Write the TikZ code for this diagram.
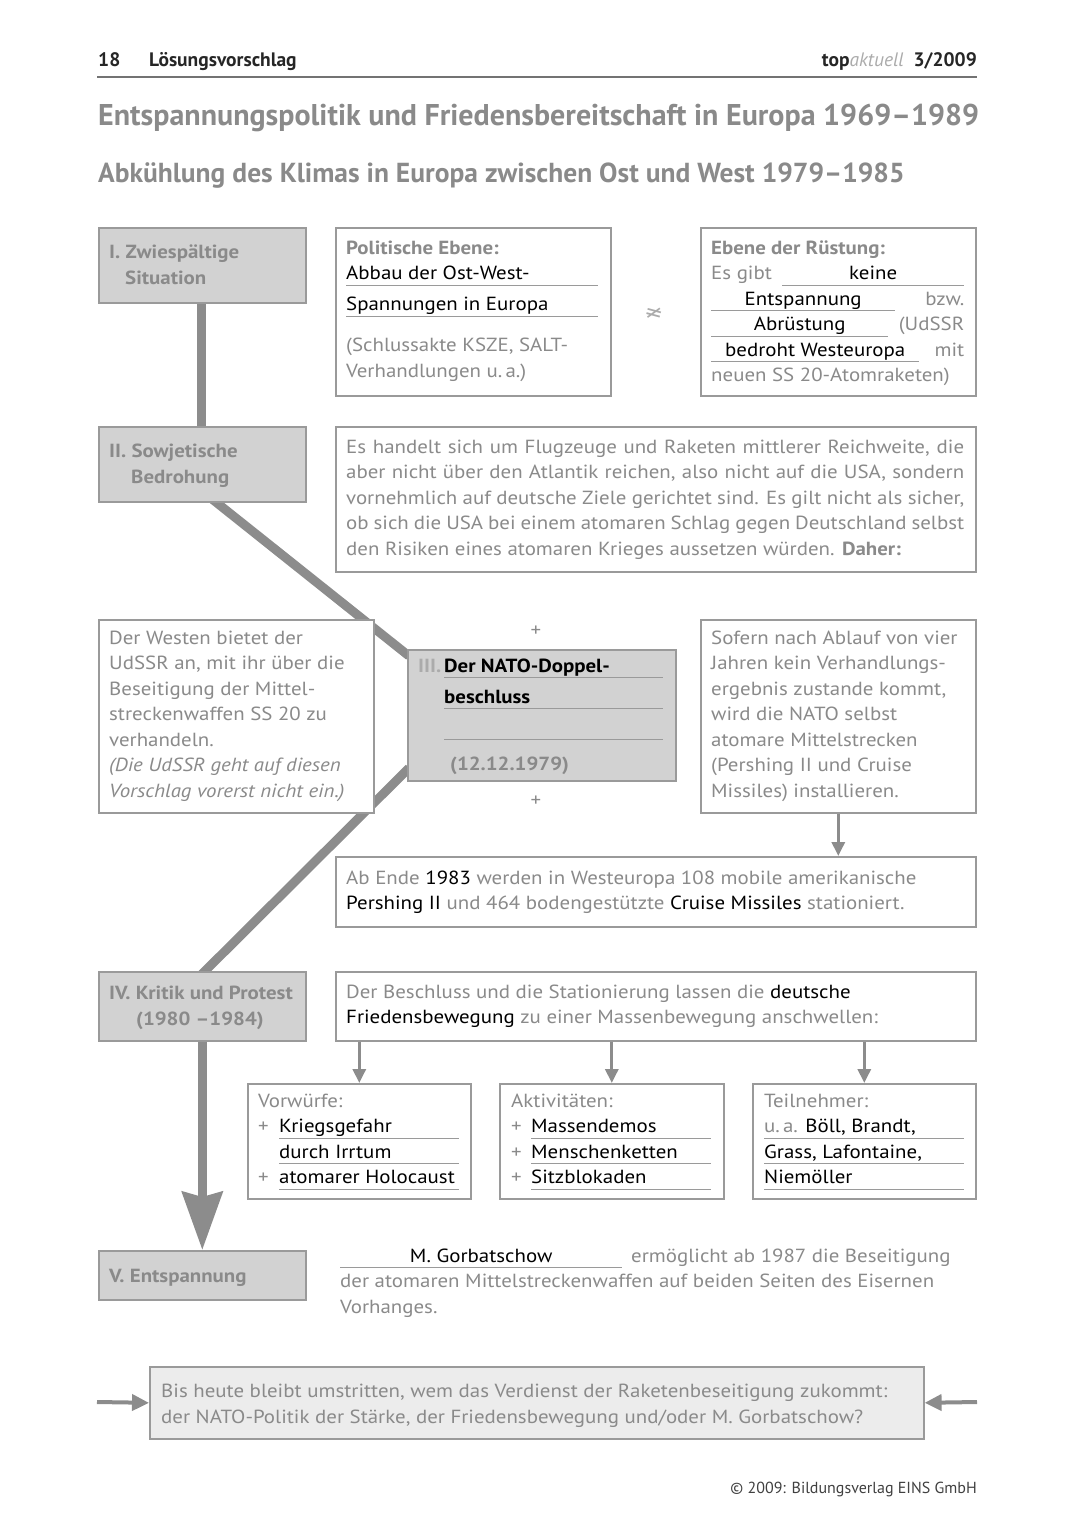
\documentclass[tikz,border=0pt]{standalone}
\usepackage{fontspec}
\setmainfont{PT Sans}
\newfontfamily\breit{PT Sans}[FakeStretch=1.1,Ligatures=TeX]
\newfontfamily\zeichen{DejaVu Sans}
\usetikzlibrary{positioning,arrows.meta}

\definecolor{schrift}{HTML}{8A8A8A}
\definecolor{hell}{HTML}{ABABAB}
\definecolor{rahmen}{HTML}{9A9A9A}
\definecolor{stufengrau}{HTML}{D2D2D2}
\definecolor{balkengrau}{HTML}{8C8C8C}
\definecolor{hinweisgrau}{HTML}{ECECEC}

\newcommand\grund{\breit\fontsize{19}{25.5}\selectfont}
\newcommand\luecke[3][c]{\makebox[0pt][l]{\color{rahmen}\rule[-6pt]{#2}{1pt}}\makebox[#2][#1]{\color{black}#3}}
\newcommand\sw[1]{{\color{black}#1}}
\newcommand\zeile[2]{\makebox[#1][s]{#2}}

\begin{document}
\begin{tikzpicture}[x=1pt,y=-1pt,
  every node/.style={font=\grund,text=schrift,inner sep=0pt},
  kasten/.style={draw=rahmen,line width=1.6pt,fill=white,anchor=north west},
  stufe/.style={kasten,fill=stufengrau},
  inhalt/.style={anchor=base west,align=left},
  stufentext/.style={inhalt,font=\grund\bfseries},
  kopf/.style={anchor=base west,font=\fontsize{19.5}{22}\selectfont\bfseries,text=black!85},
  balken/.style={draw=balkengrau,line width=9pt},
  pfeil/.style={draw=balkengrau,line width=3pt,-{Triangle[length=14pt,width=13pt]}}
  ]
\useasboundingbox (0,0) rectangle (1080,1527);

% Kopf
\node[kopf] (seite) at (98,66) {18};
\node[kopf] (rubrik) at (149,66) {Lösungsvorschlag};
\node[kopf,anchor=base east,font=\fontsize{19.5}{22}\selectfont] (heft) at (977,66)
  {\textbf{top}{\color{hell}\itshape aktuell}\hspace{10pt}\textbf{3/2009}};
\draw[draw=black!55,line width=1.3pt] (97,77) -- (977,77);
\node[anchor=base west,font=\fontsize{30}{34}\selectfont\bfseries] (titel) at (98,125)
  {Entspannungspolitik und Friedensbereitschaft in Europa 1969--1989};
\node[anchor=base west,font=\fontsize{27.5}{32}\selectfont\bfseries] (untertitel) at (98,182)
  {Abkühlung des Klimas in Europa zwischen Ost und West 1979--1985};

% Balken zwischen den Stufen
\draw[balken] (201.5,300) -- (201.5,428);
\draw[balken] (207,495) -- (409,656);
\draw[balken] (409,768) -- (199,977);

% Stufen (Textknoten sitzen auf der Grundlinie ihrer letzten Zeile)
\node[stufe,minimum width=207pt,minimum height=75pt] (I) at (98,227) {};
\node[stufe,minimum width=207pt,minimum height=75pt] (II) at (98,426) {};
\node[stufe,minimum width=207pt,minimum height=69pt] (IV) at (98,971) {};
\node[stufe,minimum width=207pt,minimum height=49pt] (V) at (98,1250) {};
\node[stufe,minimum width=268pt,minimum height=131pt] (dop) at (407,649) {};
\draw[balken,-{Stealth[length=58pt,width=40pt,inset=5pt]}] (IV.south) -- (V.north);

\node[stufentext] (I-t) at (109,284) {I. Zwiespältige\\\hspace*{16pt}Situation};
\node[stufentext] (II-t) at (109,483) {II. Sowjetische\\\hspace*{22pt}Bedrohung};
\node[stufentext] (IV-t) at (109,1025) {IV. Kritik und Protest\\\hspace*{27pt}(1980 --1984)};
\node[stufentext] (V-t) at (109,1282) {V. Entspannung};
\node[inhalt,font=\grund\bfseries] (dop-t) at (418,770)
  {\makebox[26pt][l]{\color{hell}III.}\luecke[l]{219pt}{Der NATO-Doppel-}\\[5.5pt]
   \hspace*{26pt}\luecke[l]{219pt}{beschluss}\\[5.5pt]
   \hspace*{26pt}\luecke[l]{219pt}{}\\[10.5pt]
   \hspace*{32pt}(12.12.1979)};
\node (plus-o) at (536,631) {+};
\node (plus-u) at (536,801) {+};

% Kaesten
\node[kasten,minimum width=275pt,minimum height=168pt] (pol) at (335,227) {};
\node[inhalt] (pol-t) at (346,377)
  {\textbf{Politische Ebene:}\\
   \luecke[l]{252pt}{Abbau der Ost-West-}\\[5.5pt]
   \luecke[l]{252pt}{Spannungen in Europa}\\[15.5pt]
   (Schlussakte KSZE, SALT-\\
   Verhandlungen u.\,a.)};
\node[rotate=-15,font=\zeichen\fontsize{22}{22}\selectfont,text=hell] (ungleich) at (654,313) {≠};
\node[kasten,minimum width=275pt,minimum height=168pt] (ruest) at (700,227) {};
\node[inhalt] (ruest-t) at (711,381.5)
  {\textbf{Ebene der Rüstung:}\\
   \zeile{253pt}{Es gibt\hfill\luecke{182pt}{keine}}\\
   \zeile{253pt}{\luecke{184pt}{Entspannung}\hfill bzw.}\\
   \zeile{253pt}{\luecke{177pt}{Abrüstung}\hfill (UdSSR}\\
   \zeile{253pt}{\luecke{208pt}{bedroht Westeuropa}\hfill mit}\\
   neuen SS 20-Atomraketen)};

\node[kasten,minimum width=640pt,minimum height=145pt] (reich) at (335,426) {};
\node[inhalt] (reich-t) at (346,555)
  {\zeile{618pt}{Es handelt sich um Flugzeuge und Raketen mittlerer Reichweite, die}\\
   \zeile{618pt}{aber nicht über den Atlantik reichen, also nicht auf die USA, sondern}\\
   \zeile{618pt}{vornehmlich auf deutsche Ziele gerichtet sind. Es gilt nicht als sicher,}\\
   \zeile{618pt}{ob sich die USA bei einem atomaren Schlag gegen Deutschland selbst}\\
   den Risiken eines atomaren Krieges aussetzen würden. \textbf{Daher:}};

\node[kasten,minimum width=275pt,minimum height=193pt] (west) at (98,619) {};
\node[inhalt] (west-t) at (109,797)
  {Der Westen bietet der\\
   UdSSR an, mit ihr über die\\
   Beseitigung der Mittel-\\
   streckenwaffen SS 20 zu\\
   verhandeln.\\
   \textit{(Die UdSSR geht auf diesen}\\
   \textit{Vorschlag vorerst nicht ein.)}};

\node[kasten,minimum width=275pt,minimum height=193pt] (sofern) at (700,619) {};
\node[inhalt] (sofern-t) at (711,797)
  {Sofern nach Ablauf von vier\\
   Jahren kein Verhandlungs-\\
   ergebnis zustande kommt,\\
   wird die NATO selbst\\
   atomare Mittelstrecken\\
   (Pershing II und Cruise\\
   Missiles) installieren.};

\node[kasten,minimum width=640pt,minimum height=70pt] (ende) at (335,856) {};
\node[inhalt] (ende-t) at (346,909.5)
  {Ab Ende \sw{1983} werden in Westeuropa 108 mobile amerikanische\\
   \sw{Pershing II} und 464 bodengestützte \sw{Cruise Missiles} stationiert.};
\draw[pfeil] (sofern.south) -- (ende.north -| sofern.south);

\node[kasten,minimum width=640pt,minimum height=69pt] (besch) at (335,971) {};
\node[inhalt] (besch-t) at (346,1023.5)
  {Der Beschluss und die Stationierung lassen die \sw{deutsche}\\
   \sw{Friedensbewegung} zu einer Massenbewegung anschwellen:};

\node[kasten,minimum width=223pt,minimum height=115pt] (vorw) at (247,1083) {};
\node[kasten,minimum width=224pt,minimum height=115pt] (akt) at (499,1083) {};
\node[kasten,minimum width=223pt,minimum height=115pt] (teil) at (752,1083) {};
\foreach \k in {vorw,akt,teil}
  \draw[pfeil] (besch.south -| \k.north) -- (\k.north);
\node[inhalt] (vorw-t) at (258,1183.5)
  {Vorwürfe:\\
   \makebox[21pt][l]{+}\luecke[l]{180pt}{Kriegsgefahr}\\
   \hspace*{21pt}\luecke[l]{180pt}{durch Irrtum}\\
   \makebox[21pt][l]{+}\luecke[l]{180pt}{atomarer Holocaust}};
\node[inhalt] (akt-t) at (511,1183.5)
  {Aktivitäten:\\
   \makebox[20pt][l]{+}\luecke[l]{180pt}{Massendemos}\\
   \makebox[20pt][l]{+}\luecke[l]{180pt}{Menschenketten}\\
   \makebox[20pt][l]{+}\luecke[l]{180pt}{Sitzblokaden}};
\node[inhalt] (teil-t) at (764,1183.5)
  {Teilnehmer:\\
   \luecke[l]{200pt}{{\color{schrift}u.\,a.} Böll, Brandt,}\\
   \luecke[l]{200pt}{Grass, Lafontaine,}\\
   \luecke[l]{200pt}{Niemöller}};

\node[inhalt] (gorbi) at (340,1313)
  {\luecke{282pt}{M. Gorbatschow}\hspace{9pt}ermöglicht ab 1987 die Beseitigung\\
   der atomaren Mittelstreckenwaffen auf beiden Seiten des Eisernen\\
   Vorhanges.};

\node[kasten,fill=hinweisgrau,minimum width=774pt,minimum height=72pt] (hinweis) at (149,1366) {};
\node[inhalt] (hinweis-t) at (161,1423)
  {Bis heute bleibt umstritten, wem das Verdienst der Raketenbeseitigung zukommt:\\
   der NATO-Politik der Stärke, der Friedensbewegung und/oder M. Gorbatschow?};
\coordinate (links) at (97,1402);
\coordinate (rechts) at (977,1402);
\draw[pfeil,line width=4pt,-{Triangle[length=17pt,width=16pt]}] (links) -- (hinweis.west);
\draw[pfeil,line width=4pt,-{Triangle[length=17pt,width=16pt]}] (rechts) -- (hinweis.east);

\node[anchor=base east,font=\fontsize{16}{20}\selectfont,text=black!75] (verlag) at (977,1493)
  {© 2009: Bildungsverlag EINS GmbH};
\end{tikzpicture}
\end{document}
